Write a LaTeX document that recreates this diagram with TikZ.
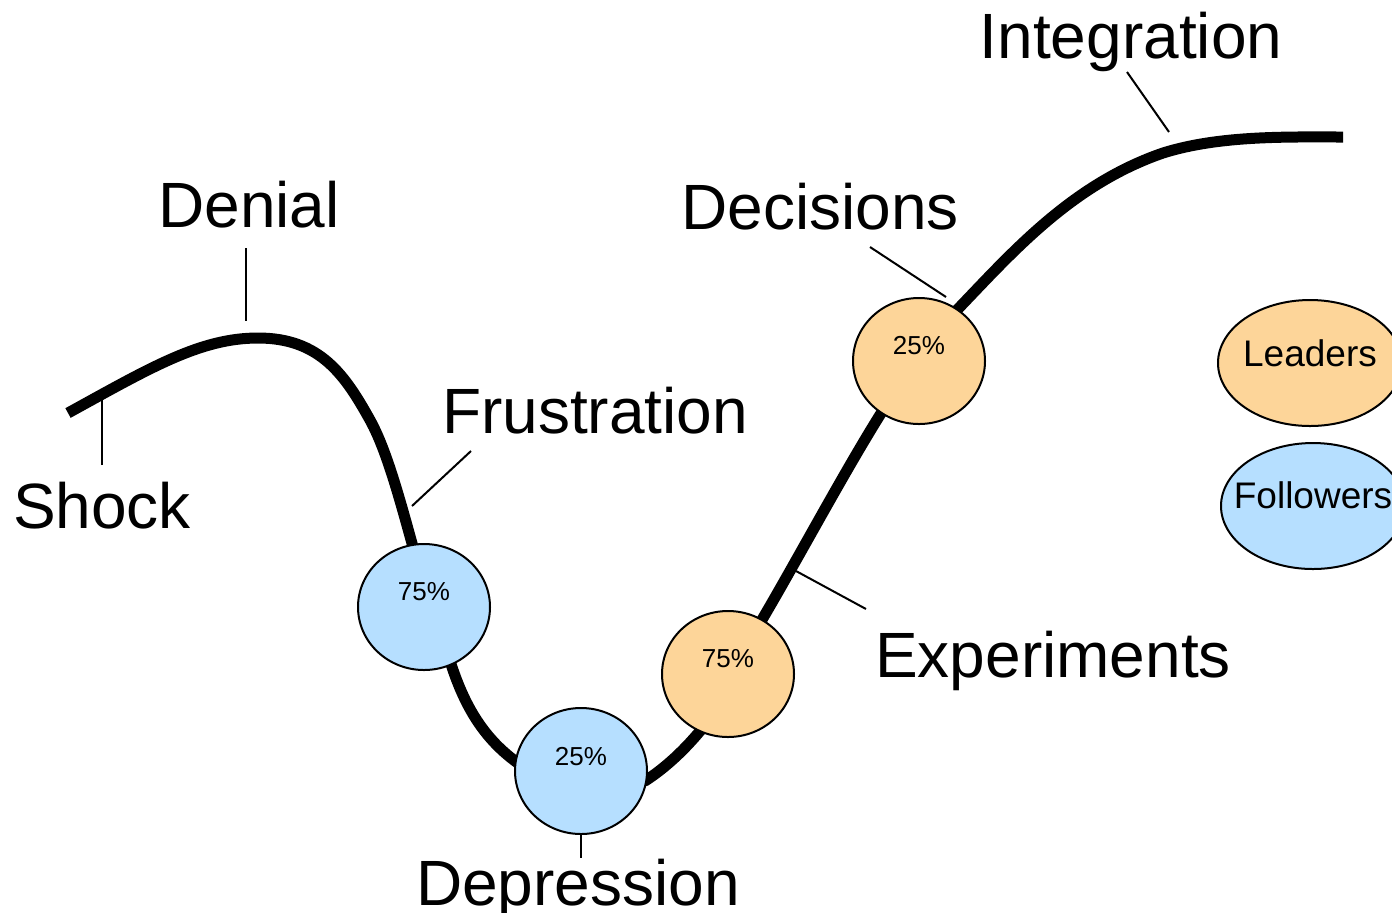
\documentclass[tikz,border=0pt]{standalone}
\usepackage{fontspec}
\setmainfont{Liberation Sans}
\usetikzlibrary{shapes.geometric,positioning}
\definecolor{LeadOrange}{RGB}{253,213,153}
\definecolor{FollowBlue}{RGB}{182,223,255}

\begin{document}
\begin{tikzpicture}[x=0.5pt, y=-0.5pt,
    phase/.style={font=\fontsize{32}{38}\selectfont, anchor=base, inner sep=0pt},
    share/.style={ellipse, draw, line width=1pt, minimum width=66pt, minimum height=63pt, inner sep=0pt},
    pct/.style={font=\fontsize{13}{15}\selectfont, anchor=base, inner sep=0pt},
    legend/.style={ellipse, draw, line width=1pt, minimum width=92pt, minimum height=63pt, inner sep=0pt},
    legtext/.style={font=\fontsize{18.5}{22}\selectfont, anchor=base, inner sep=0pt},
    tick/.style={line width=1pt}]
    \useasboundingbox (0,0) rectangle (1392,912);

    \draw[line width=5.5pt, line join=round]
        (68,413) .. controls (150,368) and (200,338) .. (258,338)
        .. controls (320,338) and (345,375) .. (370,420)
        .. controls (390,456) and (405,520) .. (425,590)
        -- (452,667)
        .. controls (468,715) and (490,745) .. (525,768)
        -- (645,781)
        .. controls (665,768) and (685,750) .. (705,725)
        -- (763,618)
        .. controls (800,555) and (848,465) .. (885,407)
        -- (955,312)
        .. controls (1010,255) and (1070,185) .. (1163,153)
        .. controls (1220,135) and (1290,137) .. (1343,137);

    \node[phase] (shock) at (102,528) {Shock};
    \node[phase] (denial) at (249,227) {Denial};
    \node[phase] (frust) at (595,433) {Frustration};
    \node[phase] (depress) at (578,905) {Depression};
    \node[phase] (decide) at (820,229) {Decisions};
    \node[phase] (exper) at (1053,677) {Experiments};
    \node[phase] (integ) at (1131,58) {Integration};

    \coordinate (shock-a) at (102,465);   \coordinate (shock-b) at (102,400);
    \coordinate (denial-a) at (246,248);  \coordinate (denial-b) at (246,321);
    \coordinate (frust-a) at (471,451);   \coordinate (frust-b) at (412,506);
    \coordinate (depress-a) at (581,858);
    \coordinate (decide-a) at (870,247);  \coordinate (decide-b) at (946,297);
    \coordinate (exper-a) at (866,609);   \coordinate (exper-b) at (796,571);
    \coordinate (integ-a) at (1127,72);   \coordinate (integ-b) at (1169,132);

    \draw[tick] (shock-a) -- (shock-b);
    \draw[tick] (denial-a) -- (denial-b);
    \draw[tick] (frust-a) -- (frust-b);
    \draw[tick] (decide-a) -- (decide-b);
    \draw[tick] (exper-a) -- (exper-b);
    \draw[tick] (integ-a) -- (integ-b);

    \node[share, fill=FollowBlue] (fol75) at (424,607) {};
    \node[pct] (fol75t) at ([yshift=3.5pt]fol75.center) {75\%};
    \node[share, fill=FollowBlue] (fol25) at (581,771) {};
    \node[pct] (fol25t) at ([yshift=3pt]fol25.center) {25\%};
    \node[share, fill=LeadOrange] (lead75) at (728,674) {};
    \node[pct] (lead75t) at ([yshift=3.5pt]lead75.center) {75\%};
    \node[share, fill=LeadOrange] (lead25) at (919,361) {};
    \node[pct] (lead25t) at ([yshift=3.5pt]lead25.center) {25\%};
    \draw[tick] (fol25.south) -- (depress-a);

    \node[legend, fill=LeadOrange] (lead) at (1310,363) {};
    \node[legtext] (leadt) at ([yshift=-1.5pt]lead.center) {Leaders};
    \node[legend, fill=FollowBlue] (fol) at (1313,506) {};
    \node[legtext] (folt) at ([yshift=-1pt]fol.center) {Followers};
\end{tikzpicture}
\end{document}
